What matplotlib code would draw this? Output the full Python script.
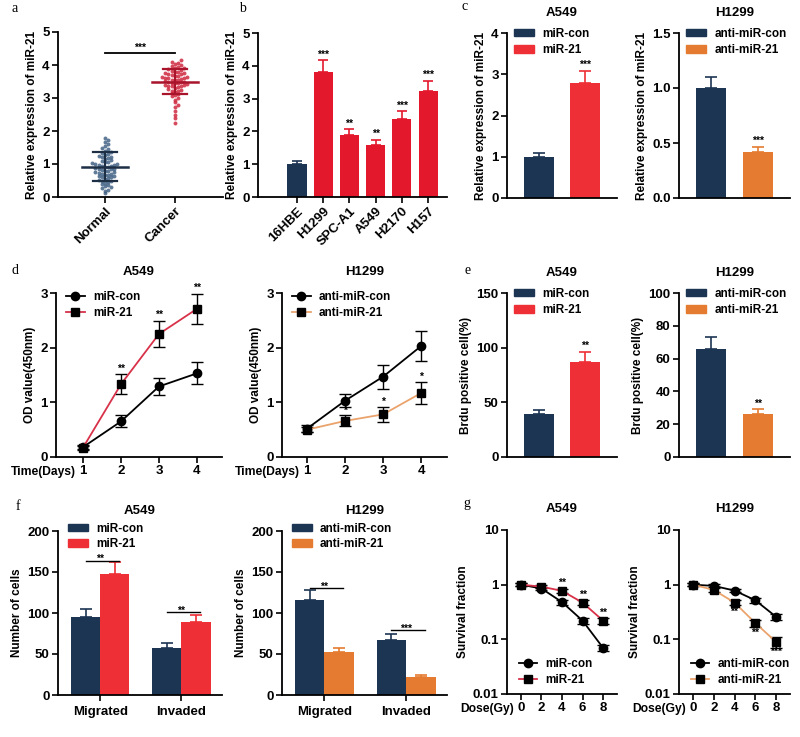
import matplotlib.pyplot as plt
import numpy as np
from matplotlib.patches import Patch
from matplotlib.lines import Line2D
from matplotlib.ticker import NullLocator

plt.rcParams['font.family'] = ['Liberation Sans', 'DejaVu Sans']
plt.rcParams['font.weight'] = 'bold'
plt.rcParams['axes.labelweight'] = 'bold'
plt.rcParams['axes.titleweight'] = 'bold'

NAVY = '#1c3553'
RED = '#ee2f35'
RED_B = '#e3182d'
ORANGE = '#e47b30'
LINE_RED = '#d8324a'
LINE_ORANGE = '#eaa36c'

# ---- panel a: scatter values ----
normal_vals = [0.12, 0.18, 0.22, 0.27, 0.3, 0.33, 0.36, 0.4, 0.42, 0.45, 0.48, 0.5,
               0.52, 0.55, 0.57, 0.6, 0.62, 0.64, 0.66, 0.68, 0.7, 0.72, 0.75, 0.77,
               0.8, 0.82, 0.84, 0.86, 0.88, 0.9, 0.92, 0.94, 0.96, 0.98, 1.0, 1.02,
               1.05, 1.07, 1.1, 1.12, 1.15, 1.18, 1.2, 1.22, 1.25, 1.28, 1.3, 1.33,
               1.36, 1.4, 1.45, 1.5, 1.55, 1.6, 1.66, 1.72, 1.8, 0.78, 0.85, 0.95,
               1.0, 0.7, 0.65]
cancer_vals = [2.25, 2.38, 2.5, 2.6, 2.72, 2.8, 2.88, 2.95, 3.0, 3.05, 3.1, 3.12,
               3.15, 3.18, 3.2, 3.22, 3.25, 3.28, 3.3, 3.32, 3.35, 3.37, 3.4, 3.42,
               3.44, 3.46, 3.48, 3.5, 3.52, 3.54, 3.56, 3.58, 3.6, 3.62, 3.64, 3.66,
               3.68, 3.7, 3.72, 3.74, 3.76, 3.78, 3.8, 3.82, 3.85, 3.87, 3.9, 3.92,
               3.95, 3.98, 4.0, 4.03, 4.06, 4.1, 4.14, 3.45, 3.55, 3.65, 3.35, 3.75,
               3.5, 3.6, 3.4]
normal_mean, normal_sd = 0.92, 0.44
cancer_mean, cancer_sd = 3.5, 0.39

# ---- panel b ----
b_lines = ['16HBE', 'H1299', 'SPC-A1', 'A549', 'H2170', 'H157']
b_vals = [1.0, 3.8, 1.88, 1.58, 2.37, 3.22]
b_err = [0.09, 0.37, 0.19, 0.17, 0.24, 0.33]
b_stars = ['', '***', '**', '**', '***', '***']

# ---- panel c ----
c_a549_labels = ['miR-con', 'miR-21']
c_a549 = [1.0, 2.78]
c_a549_err = [0.08, 0.3]
c_h1299_labels = ['anti-miR-con', 'anti-miR-21']
c_h1299 = [1.0, 0.42]
c_h1299_err = [0.1, 0.045]

# ---- panel d ----
days = [1, 2, 3, 4]
d_a549_con = [0.18, 0.65, 1.29, 1.53]
d_a549_con_err = [0.04, 0.11, 0.15, 0.2]
d_a549_mir = [0.17, 1.33, 2.25, 2.71]
d_a549_mir_err = [0.04, 0.18, 0.23, 0.28]
d_h1299_con = [0.52, 1.03, 1.47, 2.03]
d_h1299_con_err = [0.07, 0.12, 0.22, 0.27]
d_h1299_anti = [0.5, 0.66, 0.78, 1.17]
d_h1299_anti_err = [0.05, 0.1, 0.14, 0.2]

# ---- panel e ----
e_a549 = [39, 87]
e_a549_err = [4, 9]
e_h1299 = [66, 26]
e_h1299_err = [7, 3]

# ---- panel f ----
f_groups = ['Migrated', 'Invaded']
f_a549_con = [95, 57]
f_a549_con_err = [10, 6]
f_a549_mir = [147, 89]
f_a549_mir_err = [15, 9]
f_h1299_con = [116, 67]
f_h1299_con_err = [12, 8]
f_h1299_anti = [52, 22]
f_h1299_anti_err = [5, 2]

# ---- panel g ----
doses = [0, 2, 4, 6, 8]
g_a549_con = [1.0, 0.85, 0.48, 0.22, 0.07]
g_a549_con_err = [0.06, 0.05, 0.05, 0.03, 0.01]
g_a549_mir = [1.0, 0.92, 0.77, 0.47, 0.22]
g_a549_mir_err = [0.06, 0.05, 0.06, 0.05, 0.03]
g_h1299_con = [1.0, 0.95, 0.78, 0.52, 0.26]
g_h1299_con_err = [0.06, 0.06, 0.05, 0.06, 0.03]
g_h1299_anti = [1.0, 0.8, 0.47, 0.2, 0.09]
g_h1299_anti_err = [0.06, 0.06, 0.05, 0.03, 0.02]

TICK_FS = 9.5
STAR_FS = 7.5

fig = plt.figure(figsize=(8, 7.37), dpi=100)


def add_ax(l, t, r, b):
    return fig.add_axes([l / 800, 1 - b / 737, (r - l) / 800, (b - t) / 737])


def style(ax):
    for s in ['top', 'right']:
        ax.spines[s].set_visible(False)
    for s in ['left', 'bottom']:
        ax.spines[s].set_linewidth(1.3)
    ax.tick_params(direction='out', length=4, width=1.2, labelsize=TICK_FS, pad=2)


def swarm(vals, step=0.045, binh=0.12):
    vals = np.asarray(vals)
    offs = np.zeros(len(vals))
    bins = {}
    for i in np.argsort(vals):
        k = int(round(vals[i] / binh))
        n = bins.get(k, 0)
        bins[k] = n + 1
        offs[i] = ((n + 1) // 2) * step * (1 if n % 2 else -1)
    return offs


def bar_pair(ax, vals, errs, colors, labels, ylim, yticks, ylabel, title, star, star_off):
    x = np.arange(len(vals))
    ax.bar(x, vals, width=0.65, color=colors)
    for xi, v, e, c in zip(x, vals, errs, colors):
        ax.errorbar(xi, v, yerr=[[0], [e]], fmt='none', ecolor=c, capsize=4,
                    elinewidth=1.2, capthick=1.2)
    ax.text(1, vals[1] + errs[1] + star_off, star, ha='center', va='bottom', fontsize=STAR_FS)
    ax.set_xlim(-0.68, 1.68)
    ax.set_ylim(*ylim)
    ax.set_yticks(yticks)
    ax.set_xticks([])
    ax.set_ylabel(ylabel, fontsize=8.5, labelpad=3)
    ax.set_title(title, fontsize=9.5, pad=12)
    handles = [Patch(color=c) for c in colors]
    ax.legend(handles, labels, loc='upper left', bbox_to_anchor=(0.02, 1.06),
              frameon=False, fontsize=8.5, handlelength=1.7, handleheight=0.6,
              handletextpad=0.7, labelspacing=0.35, borderaxespad=0)
    style(ax)


def line_pair(ax, x, y1, e1, y2, e2, col2):
    ax.errorbar(x, y1, yerr=e1, color='black', ecolor='black', marker='o', ms=6,
                lw=1.3, capsize=4, elinewidth=1, capthick=1, zorder=3)
    ax.errorbar(x, y2, yerr=e2, color=col2, ecolor='black', marker='s', ms=6,
                mfc='black', mec='black', lw=1.3, capsize=4, elinewidth=1, capthick=1,
                zorder=3)
    handles = [Line2D([], [], color='black', marker='o', ms=6, lw=1.3),
               Line2D([], [], color=col2, marker='s', ms=6, mfc='black', mec='black', lw=1.3)]
    return handles


def xname(ax, x0, text):
    ax.annotate(text, xy=(x0, 0), xycoords=('data', 'axes fraction'),
                xytext=(-5, -6.5), textcoords='offset points', ha='right', va='top',
                fontsize=8.7)


# ============ panel a ============
ax = add_ax(58, 32, 223, 197)
ax.scatter(swarm(normal_vals), normal_vals, s=8, color='#3a5b80', alpha=0.8, lw=0, zorder=2)
ax.scatter(1 + swarm(cancer_vals), cancer_vals, s=8, color='#cf2a40', alpha=0.85, lw=0, zorder=2)
for xc, m, sd, c in [(0, normal_mean, normal_sd, '#1c2f45'), (1, cancer_mean, cancer_sd, '#a8142c')]:
    ax.plot([xc - 0.33, xc + 0.33], [m, m], color=c, lw=1.8, zorder=3)
    ax.plot([xc, xc], [m - sd, m + sd], color=c, lw=1.5, zorder=3)
    ax.plot([xc - 0.17, xc + 0.17], [m - sd, m - sd], color=c, lw=1.6, zorder=3)
    ax.plot([xc - 0.17, xc + 0.17], [m + sd, m + sd], color=c, lw=1.6, zorder=3)
ax.plot([0, 1], [4.35, 4.35], color='black', lw=1.3)
ax.text(0.5, 4.38, '***', ha='center', va='bottom', fontsize=STAR_FS)
ax.set_xlim(-0.67, 1.69)
ax.set_ylim(0, 5)
ax.set_xticks([0, 1])
ax.set_xticklabels(['Normal', 'Cancer'], rotation=45, ha='right', rotation_mode='anchor')
ax.set_ylabel('Relative expression of miR-21', fontsize=8.5, labelpad=3)
style(ax)

# ============ panel b ============
ax = add_ax(258, 33, 447, 197)
xb = np.arange(len(b_lines))
b_cols = [NAVY] + [RED_B] * 5
ax.bar(xb, b_vals, width=0.73, color=b_cols)
for xi, v, e, c, s in zip(xb, b_vals, b_err, b_cols, b_stars):
    ax.errorbar(xi, v, yerr=[[0], [e]], fmt='none', ecolor=c, capsize=3.5,
                elinewidth=1.2, capthick=1.2)
    ax.text(xi, v + e + 0.02, s, ha='center', va='bottom', fontsize=STAR_FS)
ax.set_xlim(-1.49, 5.72)
ax.set_ylim(0, 5)
ax.set_xticks(xb)
ax.set_xticklabels(b_lines, rotation=45, ha='right', rotation_mode='anchor')
ax.set_ylabel('Relative expression of miR-21', fontsize=8.5, labelpad=3)
style(ax)

# ============ panel c ============
ax = add_ax(507, 33, 617, 198)
bar_pair(ax, c_a549, c_a549_err, [NAVY, RED], c_a549_labels, (0, 4), [0, 1, 2, 3, 4],
         'Relative expression of miR-21', 'A549', '***', 0.02)
ax = add_ax(679, 33, 790, 198)
bar_pair(ax, c_h1299, c_h1299_err, [NAVY, ORANGE], c_h1299_labels, (0, 1.5),
         [0.0, 0.5, 1.0, 1.5], 'Relative expression of miR-21', 'H1299', '***', 0.005)
ax.set_yticklabels(['0.0', '0.5', '1.0', '1.5'])

# ============ panel d ============
ax = add_ax(56, 293, 222, 457)
h = line_pair(ax, days, d_a549_con, d_a549_con_err, d_a549_mir, d_a549_mir_err, LINE_RED)
for xi, v, e in zip(days[1:], d_a549_mir[1:], d_a549_mir_err[1:]):
    ax.text(xi, v + e + 0.02, '**', ha='center', va='bottom', fontsize=STAR_FS)
ax.legend(h, c_a549_labels, loc='upper left', bbox_to_anchor=(0.03, 1.04),
          frameon=False, fontsize=8.5, handlelength=1.6, handletextpad=0.7,
          labelspacing=0.3, borderaxespad=0)
ax.set_xlim(0.29, 4.66)
ax.set_ylim(0, 3)
ax.set_xticks(days)
ax.set_yticks([0, 1, 2, 3])
ax.set_ylabel('OD value(450nm)', fontsize=8.5, labelpad=3)
ax.set_title('A549', fontsize=9.5, pad=13)
xname(ax, 1, 'Time(Days)')
style(ax)

ax = add_ax(282, 293, 447, 457)
h = line_pair(ax, days, d_h1299_con, d_h1299_con_err, d_h1299_anti, d_h1299_anti_err,
              LINE_ORANGE)
for xi, v, e in zip(days[1:], d_h1299_anti[1:], d_h1299_anti_err[1:]):
    ax.text(xi, v + e + 0.0, '*', ha='center', va='bottom', fontsize=STAR_FS)
ax.legend(h, c_h1299_labels, loc='upper left', bbox_to_anchor=(0.03, 1.04),
          frameon=False, fontsize=8.5, handlelength=1.6, handletextpad=0.7,
          labelspacing=0.3, borderaxespad=0)
ax.set_xlim(0.34, 4.68)
ax.set_ylim(0, 3)
ax.set_xticks(days)
ax.set_yticks([0, 1, 2, 3])
ax.set_ylabel('OD value(450nm)', fontsize=8.5, labelpad=3)
ax.set_title('H1299', fontsize=9.5, pad=13)
xname(ax, 1, 'Time(Days)')
style(ax)

# ============ panel e ============
ax = add_ax(507, 293, 617, 457)
bar_pair(ax, e_a549, e_a549_err, [NAVY, RED], c_a549_labels, (0, 150), [0, 50, 100, 150],
         'Brdu positive cell(%)', 'A549', '**', 1)
ax = add_ax(679, 293, 790, 457)
bar_pair(ax, e_h1299, e_h1299_err, [NAVY, ORANGE], c_h1299_labels, (0, 100),
         [0, 20, 40, 60, 80, 100], 'Brdu positive cell(%)', 'H1299', '**', 0.5)


# ============ panel f ============
def group_bars(ax, con, con_err, trt, trt_err, col2, labels, sig, title):
    xg = np.arange(len(f_groups))
    w = 0.36
    ax.bar(xg - w / 2, con, width=w, color=NAVY)
    ax.bar(xg + w / 2, trt, width=w, color=col2)
    ax.errorbar(xg - w / 2, con, yerr=[np.zeros(2), con_err], fmt='none', ecolor=NAVY,
                capsize=4, elinewidth=1.2, capthick=1.2)
    ax.errorbar(xg + w / 2, trt, yerr=[np.zeros(2), trt_err], fmt='none', ecolor=col2,
                capsize=4, elinewidth=1.2, capthick=1.2)
    for xi, (yl, s) in zip(xg, sig):
        ax.plot([xi - w / 2, xi + w / 2 + 0.05], [yl, yl], color='black', lw=1)
        ax.text(xi, yl - 4, s, ha='center', va='bottom', fontsize=STAR_FS)
    ax.set_xlim(-0.52, 1.5)
    ax.set_ylim(0, 200)
    ax.set_xticks(xg)
    ax.set_xticklabels(f_groups)
    ax.set_yticks([0, 50, 100, 150, 200])
    ax.set_ylabel('Number of cells', fontsize=8.5, labelpad=3)
    ax.set_title(title, fontsize=9.5, pad=12)
    handles = [Patch(color=NAVY), Patch(color=col2)]
    ax.legend(handles, labels, loc='upper left', bbox_to_anchor=(0.03, 1.08),
              frameon=False, fontsize=8.5, handlelength=1.7, handleheight=0.6,
              handletextpad=0.7, labelspacing=0.3, borderaxespad=0)
    style(ax)
    ax.tick_params(axis='x', pad=4)


ax = add_ax(58, 531, 222, 695)
group_bars(ax, f_a549_con, f_a549_con_err, f_a549_mir, f_a549_mir_err, RED,
           c_a549_labels, [(164, '**'), (101, '**')], 'A549')
ax = add_ax(282, 531, 447, 695)
group_bars(ax, f_h1299_con, f_h1299_con_err, f_h1299_anti, f_h1299_anti_err, ORANGE,
           c_h1299_labels, [(130, '**'), (79, '***')], 'H1299')


# ============ panel g ============
def log_axis(ax, title):
    ax.set_yscale('log')
    ax.set_ylim(0.01, 10)
    ax.set_yticks([0.01, 0.1, 1, 10])
    ax.set_yticklabels(['0.01', '0.1', '1', '10'])
    ax.yaxis.set_minor_locator(NullLocator())
    ax.set_xlim(-1.36, 9.36)
    ax.set_xticks(doses)
    ax.set_ylabel('Survival fraction', fontsize=8.5, labelpad=3)
    ax.set_title(title, fontsize=9.5, pad=13)
    xname(ax, 0, 'Dose(Gy)')
    style(ax)


ax = add_ax(507, 530, 617, 694)
h = line_pair(ax, doses, g_a549_con, g_a549_con_err, g_a549_mir, g_a549_mir_err, LINE_RED)
for xi, v in zip(doses[2:], g_a549_mir[2:]):
    ax.text(xi, v * 1.12, '**', ha='center', va='bottom', fontsize=STAR_FS)
ax.legend(h, c_a549_labels, loc='lower left', bbox_to_anchor=(0.03, 0.0),
          frameon=False, fontsize=8.5, handlelength=1.6, handletextpad=0.7,
          labelspacing=0.3, borderaxespad=0.3)
log_axis(ax, 'A549')

ax = add_ax(679, 530, 790, 694)
h = line_pair(ax, doses, g_h1299_con, g_h1299_con_err, g_h1299_anti, g_h1299_anti_err,
              LINE_ORANGE)
for xi, v, s in zip(doses[2:], g_h1299_anti[2:], ['**', '**', '***']):
    ax.text(xi, v / 1.22, s, ha='center', va='top', fontsize=STAR_FS)
ax.legend(h, c_h1299_labels, loc='lower left', bbox_to_anchor=(0.03, 0.0),
          frameon=False, fontsize=8.5, handlelength=1.6, handletextpad=0.7,
          labelspacing=0.3, borderaxespad=0.3)
log_axis(ax, 'H1299')

# panel letters
for lab, x, y in [('a', 15, 8), ('b', 242, 8), ('c', 465, 7), ('d', 15, 270),
                  ('e', 468, 270), ('f', 18, 507), ('g', 467, 503)]:
    fig.text(x / 800, 1 - y / 737, lab, family='Liberation Serif', weight='normal',
             fontsize=10, ha='center', va='center')

fig.savefig('out.png', dpi=100)
